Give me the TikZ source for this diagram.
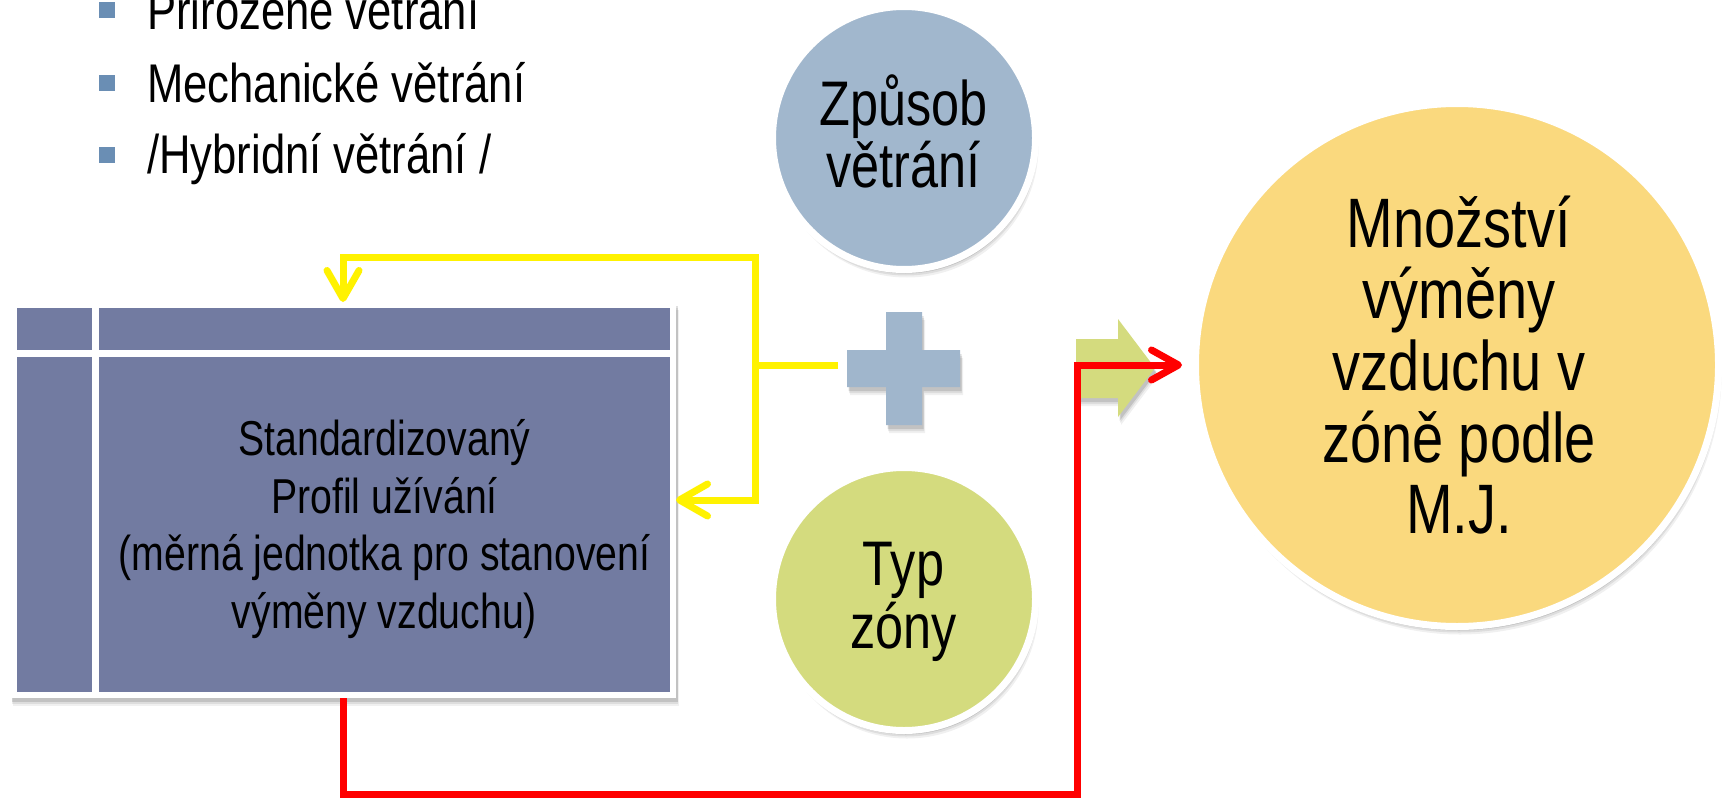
\documentclass[tikz,border=0pt]{standalone}
\usepackage{fontspec}
\setmainfont{Liberation Sans}[FakeStretch=0.8]
\usetikzlibrary{arrows.meta,shadows}
\definecolor{bulletblue}{HTML}{6A8EB4}
\definecolor{cellpurple}{HTML}{727BA1}
\definecolor{circblue}{HTML}{A1B7CD}
\definecolor{circgreen}{HTML}{D4DB7E}
\definecolor{circyellow}{HTML}{FAD97E}
\definecolor{plusblue}{HTML}{A0B6CC}
\begin{document}
\begin{tikzpicture}[x=1pt,y=-1pt,
  softshadow/.style={
    drop shadow={shadow xshift=3pt,shadow yshift=-8pt,opacity=0.06,fill=black},
    drop shadow={shadow xshift=2pt,shadow yshift=-6pt,opacity=0.08,fill=black},
    drop shadow={shadow xshift=1.5pt,shadow yshift=-4pt,opacity=0.12,fill=black}},
  roundel/.style={circle,draw=white,line width=7pt,inner sep=0pt,outer sep=0pt,softshadow},
  framebox/.style={rectangle,fill=white,draw=none,minimum width=666pt,minimum height=396pt,inner sep=0pt,outer sep=0pt,softshadow},
  yel/.style={draw=yellow,line width=7pt},
  redl/.style={draw=red,line width=7pt},
  yeltip/.style={-{Straight Barb[length=28pt,width=32pt,round]}},
  redtip/.style={-{Straight Barb[length=27pt,width=30pt,round]}},
  bul/.style={rectangle,fill=bulletblue,draw=none,minimum size=16pt,inner sep=0pt},
  line/.style={inner sep=0pt,anchor=base},
  bultext/.style={inner sep=0pt,anchor=base west,font=\fontsize{54.5}{71.5}\selectfont},
  boxfont/.style={font=\fontsize{49}{57.7}\selectfont},
  smallfont/.style={font=\fontsize{63}{62}\selectfont},
  bigfont/.style={font=\fontsize{70}{71}\selectfont}
]
\useasboundingbox (0,0) rectangle (1734,800);
\clip (0,0) rectangle (1734,800);
\fill[white] (0,0) rectangle (1734,800);

% bullet list
\node[bul] (b1) at (107,10.5) {};
\node[bul] (b2) at (107,83) {};
\node[bul] (b3) at (107,155) {};
\node[bultext] (t1) at (147,30) {Přirozené větrání};
\node[bultext] (t2) at (147,102) {Mechanické větrání};
\node[bultext] (t3) at (147,173) {/Hybridní větrání /};

% profile box
\node[framebox] (box) at (343,500) {};
\fill[cellpurple] (16.5,308) rectangle (92,350);
\fill[cellpurple] (99,308) rectangle (670,350);
\fill[cellpurple] (16.5,357) rectangle (92,692);
\fill[cellpurple] (99,357) rectangle (670,692);
\node[line,boxfont] (p1) at (384.5,455) {Standardizovaný};
\node[line,boxfont] (p2) at (384.5,513) {Profil užívání};
\node[line,boxfont] (p3) at (384.5,570) {(měrná jednotka pro stanovení};
\node[line,boxfont] (p4) at (384.5,628) {výměny vzduchu)};

% circles
\node[roundel,fill=circblue,minimum size=263pt] (zpusob) at (904,138) {};
\node[line,smallfont] (z1) at (903.5,125) {Způsob};
\node[line,smallfont] (z2) at (903.5,187) {větrání};
\node[roundel,fill=circgreen,minimum size=263pt] (typ) at (904,599) {};
\node[line,smallfont] (y1) at (903.5,585) {Typ};
\node[line,smallfont] (y2) at (903.5,648) {zóny};
\node[roundel,fill=circyellow,minimum size=523pt] (big) at (1457,365) {};
\node[line,bigfont] (m1) at (1459,247) {Množství};
\node[line,bigfont] (m2) at (1459,318) {výměny};
\node[line,bigfont] (m3) at (1459,390) {vzduchu v};
\node[line,bigfont] (m4) at (1459,462) {zóně podle};
\node[line,bigfont] (m5) at (1459,533) {M.J.};

% plus sign
\fill[plusblue,softshadow] (886,312) -- (922,312) -- (922,350) -- (960,350) -- (960,387)
  -- (922,387) -- (922,425) -- (886,425) -- (886,387) -- (847,387) -- (847,350)
  -- (886,350) -- cycle;

% green block arrow
\fill[circgreen,softshadow] (1076,339) -- (1118,339) -- (1118,319) -- (1155,368)
  -- (1118,417) -- (1118,398) -- (1076,398) -- cycle;

% yellow connectors
\coordinate (plusleft) at (838,365);
\coordinate (jn) at (755,365);
\coordinate (ytop) at (755,257);
\draw[yel] (plusleft) -- (jn);
\draw[yel,yeltip] (jn) -- (ytop) -| (box.north);
\draw[yel,yeltip] (jn) |- (box.east);

% red connector
\coordinate (rb1) at (343,794);
\coordinate (rb2) at (1077,794);
\coordinate (rend) at (1182,365);
\draw[redl,redtip] (box.south) -- (rb1) -- (rb2) |- (rend);
\end{tikzpicture}
\end{document}
